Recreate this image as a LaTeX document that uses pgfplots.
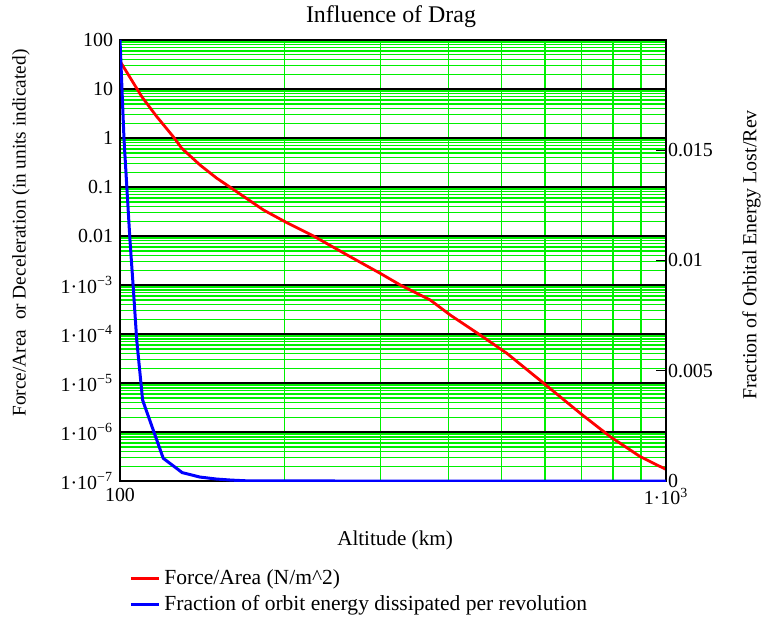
\documentclass[border=0pt]{standalone}
\usepackage{fontspec}
\setmainfont{Liberation Serif}
\usepackage{pgfplots}
\pgfplotsset{compat=1.18}
\definecolor{gridgreen}{RGB}{0,240,0}
\begin{document}
\begin{tikzpicture}
\begin{axis}[
  at={(0,0)}, anchor=south west,
  scale only axis, width=273bp, height=220.5bp,
  xmode=log, ymode=log,
  xmin=100, xmax=1000, ymin=1e-7, ymax=100,
  xtick={100,1000},
  xticklabels={100, {1·10\textsuperscript{3}}},
  minor xtick={200,300,400,500,600,700,800,900},
  ytick={1e-7,1e-6,1e-5,1e-4,1e-3,0.01,0.1,1,10,100},
  yticklabels={{1·10\textsuperscript{−7}},{1·10\textsuperscript{−6}},{1·10\textsuperscript{−5}},{1·10\textsuperscript{−4}},{1·10\textsuperscript{−3}},0.01,0.1,1,10,100},
  minor ytick={2e-7,3e-7,4e-7,5e-7,6e-7,7e-7,8e-7,9e-7,
               2e-6,3e-6,4e-6,5e-6,6e-6,7e-6,8e-6,9e-6,
               2e-5,3e-5,4e-5,5e-5,6e-5,7e-5,8e-5,9e-5,
               2e-4,3e-4,4e-4,5e-4,6e-4,7e-4,8e-4,9e-4,
               2e-3,3e-3,4e-3,5e-3,6e-3,7e-3,8e-3,9e-3,
               0.02,0.03,0.04,0.05,0.06,0.07,0.08,0.09,
               0.2,0.3,0.4,0.5,0.6,0.7,0.8,0.9,
               2,3,4,5,6,7,8,9,
               20,30,40,50,60,70,80,90},
  grid=both,
  major grid style={black, line width=0.55bp},
  minor grid style={gridgreen, line width=0.75bp},
  major tick length=0pt, minor tick length=0pt,
  axis line style={black, line width=0.8bp},
  tick label style={font=\fontsize{10}{12}\selectfont},
  title={Influence of Drag},
  every axis title shift=0pt,
  title style={at={(axis description cs:0.4963,1.0522)}, anchor=center, font=\fontsize{12}{14}\selectfont},
  xlabel={Altitude (km)},
  xlabel style={at={(axis description cs:0.5037,-0.1338)}, anchor=center, font=\fontsize{10.6}{13}\selectfont},
  ylabel={Force/Area\ \ or Deceleration (in units indicated)},
  ylabel style={at={(axis description cs:-0.1813,0.5624)}, anchor=center, font=\fontsize{9.7}{12}\selectfont},
]
\addplot[red, line width=1.4bp] coordinates {
(100,37) (107.3,10.3) (109.6,7.0) (116.8,2.72) (125.2,1.06) (129.7,0.62)
(140.2,0.28) (150.4,0.151) (156.9,0.110) (183.1,0.034) (202.1,0.0187)
(226.1,0.0100) (264,0.00378) (299.6,0.00173) (326.1,0.00100) (370,4.94e-4)
(402.5,2.44e-4) (456.9,9.5e-5) (511,4.04e-5) (596.9,9.9e-6)
(696.6,2.41e-6) (790.8,8.0e-7) (897.4,3.13e-7) (962.8,2.12e-7) (1000,1.73e-7)
};
\end{axis}
\begin{axis}[
  at={(0,0)}, anchor=south west,
  scale only axis, width=273bp, height=220.5bp,
  xmode=log, xmin=100, xmax=1000, ymin=0, ymax=0.02,
  axis x line=none, axis y line*=right,
  y axis line style={-, black, line width=0.8bp},
  scaled y ticks=false,
  ytick={0,0.005,0.01,0.015},
  yticklabels={0,0.005,0.01,0.015},
  tick align=inside, major tick length=5bp,
  tick style={black, line width=0.6bp},
  tick label style={font=\fontsize{10}{12}\selectfont},
  yticklabel style={anchor=west, xshift=-2.5bp},
  ylabel={Fraction of Orbital Energy Lost/Rev},
  every axis y label/.style={at={(axis description cs:1.1566,0.5125)}, rotate=90, anchor=center, font=\fontsize{10}{12}\selectfont},
  legend style={at={(axis description cs:0.0165,-0.19)}, anchor=north west, draw=none, fill=none,
    font=\fontsize{10.8}{13}\selectfont, inner sep=0pt, row sep=0pt, cells={anchor=west}},
  legend image code/.code={\draw[#1] (0bp,0bp) -- (14bp,0bp);},
]
\addlegendimage{red, line width=1.4bp}
\addlegendentry{Force/Area (N/m\textasciicircum 2)}
\addplot[blue, line width=1.5bp] coordinates {
(100,0.0200) (101.7,0.0155) (104.3,0.0109) (105.8,0.0087) (107.3,0.0064)
(110,0.00367) (120,0.00103) (130,0.00038) (140,0.00018) (150,0.00009)
(160,0.00004) (170,0.00001) (180,0.000005) (200,0.000002) (250,0)
(300,0) (400,0) (500,0) (600,0) (700,0) (800,0) (900,0) (1000,0)
};
\addlegendentry{Fraction of orbit energy dissipated per revolution}
\end{axis}
\pgfresetboundingbox
\path[use as bounding box] (-60bp,-69.5bp) rectangle (320.5bp,240.5bp);
\end{tikzpicture}
\end{document}
